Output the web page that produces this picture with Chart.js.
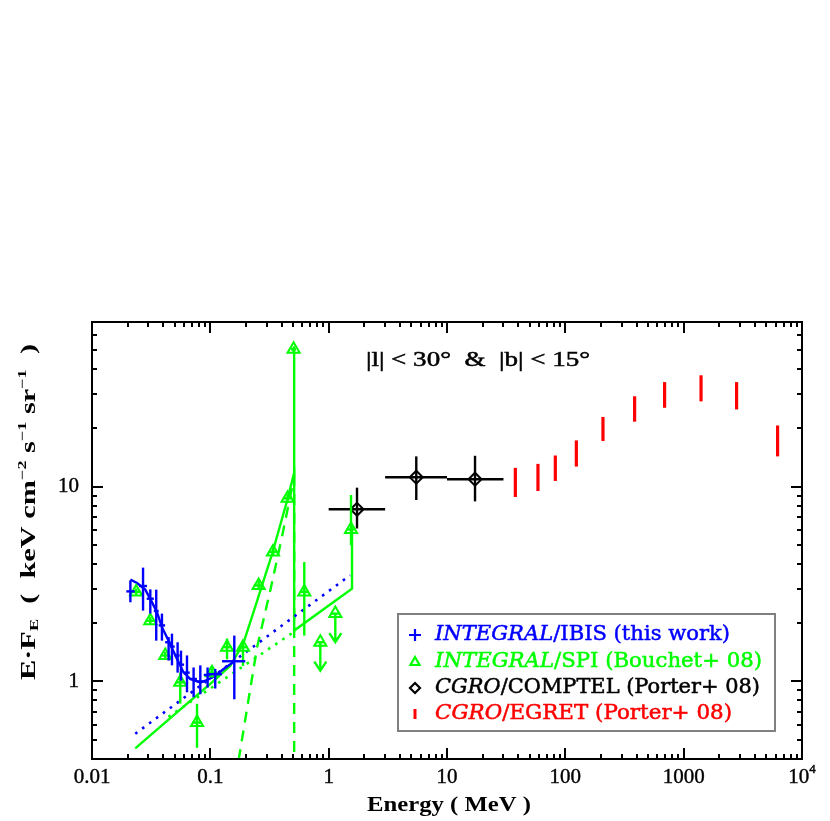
<!DOCTYPE html>
<html>
<head>
<meta charset="utf-8">
<script src="https://cdn.jsdelivr.net/npm/chart.js@4/dist/chart.umd.min.js"></script>
<style>
  html, body { margin: 0; padding: 0; background: #fff; }
  #wrap { width: 830px; height: 821px; }
</style>
</head>
<body>
<div id="wrap"><canvas id="chart" width="830" height="821"></canvas></div>
<script>
// Sumbu
const xTickLabels = ['0.01', '0.1', '1', '10', '100', '1000', '10^4'];
const xMajorTicks = [0.01, 0.1, 1, 10, 100, 1000, 10000];
const yTickLabels = ['1', '10'];
const yMajorTicks = [1, 10];

// INTEGRAL/IBIS (biru)
const ibisE    = [0.0211, 0.0270, 0.0311, 0.0349, 0.0390, 0.0444, 0.0474, 0.0529, 0.0565, 0.0635, 0.0722, 0.0823, 0.0948, 0.110, 0.1594];
const ibisF    = [2.90, 3.09, 2.66, 2.30, 1.94, 1.59, 1.51, 1.36, 1.22, 1.11, 1.03, 1.00, 1.08, 1.09, 1.27];
const ibisFlo  = [2.55, 2.31, 2.23, 1.62, 1.62, 1.28, 1.21, 1.11, 1.01, 0.88, 0.83, 0.86, 0.93, 0.92, 0.81];
const ibisFhi  = [3.30, 3.84, 2.97, 2.96, 2.23, 1.69, 1.76, 1.59, 1.44, 1.36, 1.18, 1.21, 1.18, 1.16, 1.72];
const ibisElo  = [0.0195, 0.0250, 0.0290, 0.0333, 0.0366, 0.0415, 0.0460, 0.0500, 0.0550, 0.0600, 0.0670, 0.0770, 0.0880, 0.0936, 0.1256];
const ibisEhi  = [0.0230, 0.0292, 0.0333, 0.0366, 0.0415, 0.0460, 0.0500, 0.0550, 0.0600, 0.0670, 0.0770, 0.0880, 0.1000, 0.1256, 0.1975];
const ibisModelE = [0.0211, 0.0240, 0.0282, 0.0321, 0.0354, 0.0390, 0.0444, 0.0523, 0.0594, 0.0677, 0.0823, 0.0937, 0.110, 0.1294, 0.1594];
const ibisModelF = [3.33, 3.20, 2.96, 2.555, 2.27, 1.90, 1.62, 1.305, 1.113, 1.029, 0.988, 1.017, 1.07, 1.158, 1.268];
const ibisPowE = [0.0232, 1.52];
const ibisPowF = [0.539, 3.51];

// INTEGRAL/SPI (hijau)
const spiE   = [0.0236, 0.0311, 0.0416, 0.0557, 0.0772, 0.1033, 0.1384, 0.1888, 0.256, 0.3385, 0.4497, 0.5055, 0.6223, 0.85, 1.138, 1.545];
const spiF   = [2.88, 2.05, 1.36, 0.99, 0.615, 1.11, 1.50, 1.50, 3.11, 4.62, 8.71, 50.7, 2.88, 1.59, 2.23, 6.03];
const spiFlo = [2.76, 1.96, 1.30, 0.77, 0.457, 1.05, 1.30, 1.20, 2.96, 4.40, 8.25, 49.0, 1.72, 1.59, 2.23, 5.00];
const spiFhi = [3.00, 2.15, 1.42, 1.11, 0.767, 1.20, 1.66, 1.60, 3.28, 4.85, 9.20, 52.0, 4.10, 1.59, 2.23, 9.06];
const spiElo = [0.0215, 0.0285, 0.0380, 0.0510, 0.0705, 0.0940, 0.1260, 0.1720, 0.2330, 0.310, 0.410, 0.480, 0.570, 0.780, 1.040, 1.410];
const spiEhi = [0.0260, 0.0340, 0.0455, 0.0610, 0.0845, 0.1130, 0.1520, 0.2070, 0.2800, 0.370, 0.490, 0.530, 0.680, 0.930, 1.250, 1.690];
const spiUpper = [false, false, false, false, false, false, false, false, false, false, false, false, false, true, true, false];
const spiTotalE = [0.0232, 0.0677, 0.0999, 0.1475, 0.190, 0.254, 0.334, 0.447, 0.511, 0.511, 0.511, 1.575, 1.575];
const spiTotalF = [0.454, 0.795, 0.973, 1.205, 1.564, 2.70, 4.55, 8.54, 11.77, 52.5, 1.825, 2.995, 6.2];
const spiPosE = [0.1734, 0.248, 0.321, 0.406, 0.474, 0.511, 0.511];
const spiPosF = [0.395, 1.49, 2.93, 5.64, 8.96, 11.1, 0.3];
const spiPowE = [0.0442, 0.511];
const spiPowF = [0.658, 1.80];

// CGRO/COMPTEL (hitam)
const comptelE   = [1.736, 5.50, 17.25];
const comptelF   = [7.65, 11.18, 10.92];
const comptelFlo = [6.10, 8.54, 8.40];
const comptelFhi = [9.88, 14.3, 14.4];
const comptelElo = [1.0, 3.0, 10.0];
const comptelEhi = [3.0, 10.0, 30.0];

// CGRO/EGRET (merah)
const egretE   = [37.8, 58.7, 82.3, 123.9, 208, 385, 690, 1402, 2800, 6220];
const egretFlo = [8.85, 9.50, 10.7, 12.68, 17.14, 21.55, 25.4, 27.4, 24.9, 14.3];
const egretFhi = [12.49, 13.09, 14.45, 17.27, 22.8, 29.1, 34.4, 37.3, 34.4, 20.6];

const BLUE = '#0000ff';
const GREEN = '#00ff00';
const RED = '#ff0000';
const BLACK = '#000000';
const SERIF = '"Liberation Serif", "DejaVu Serif", serif';
const LEGEND_FONT = '"DejaVu Serif", serif';

function toPoints(xs, ys) {
    return xs.map((x, i) => ({ x: x, y: ys[i] }));
}

// Tulis teks beberapa bagian, diskalakan ke lebar tertentu
function drawRuns(ctx, runs, x, y, width, align, weight) {
    let total = 0;
    runs.forEach(r => {
        ctx.font = r.font;
        r.w = ctx.measureText(r.t).width;
        total += r.w;
    });
    const sx = width ? width / total : 1;
    const w = total * sx;
    const start = align === 'center' ? x - w / 2 : (align === 'right' ? x - w : x);
    ctx.save();
    ctx.translate(start, y);
    ctx.scale(sx, 1);
    ctx.textBaseline = 'middle';
    ctx.textAlign = 'left';
    let cx = 0;
    runs.forEach(r => {
        ctx.font = r.font;
        ctx.fillStyle = r.color || BLACK;
        ctx.fillText(r.t, cx, r.dy || 0);
        if (weight) {
            ctx.strokeStyle = r.color || BLACK;
            ctx.lineWidth = weight;
            ctx.strokeText(r.t, cx, r.dy || 0);
        }
        cx += r.w;
    });
    ctx.restore();
}

// Error bar, panah batas atas, dan bar EGRET
const errorBarPlugin = {
    id: 'errorBars',
    afterDatasetsDraw(chart) {
        const ctx = chart.ctx;
        const xs = chart.scales.x;
        const ys = chart.scales.y;
        const area = chart.chartArea;
        ctx.save();
        ctx.beginPath();
        ctx.rect(area.left, area.top, area.right - area.left, area.bottom - area.top);
        ctx.clip();
        ctx.lineCap = 'butt';
        chart.data.datasets.forEach(ds => {
            if (!ds.errInfo) return;
            const e = ds.errInfo;
            ctx.strokeStyle = ds.borderColor;
            ctx.lineWidth = e.width;
            e.x.forEach((xv, i) => {
                const px = xs.getPixelForValue(xv);
                if (e.ylo && e.yhi) {
                    ctx.beginPath();
                    ctx.moveTo(px, ys.getPixelForValue(e.ylo[i]));
                    ctx.lineTo(px, ys.getPixelForValue(e.yhi[i]));
                    ctx.stroke();
                }
                if (e.xlo && e.xhi) {
                    const py = ys.getPixelForValue(e.y[i]);
                    ctx.beginPath();
                    ctx.moveTo(xs.getPixelForValue(e.xlo[i]), py);
                    ctx.lineTo(xs.getPixelForValue(e.xhi[i]), py);
                    ctx.stroke();
                }
                if (e.upper && e.upper[i]) {
                    const py = ys.getPixelForValue(e.y[i]);
                    const tip = ys.getPixelForValue(e.y[i] / 1.4);
                    ctx.beginPath();
                    ctx.moveTo(px, py);
                    ctx.lineTo(px, tip);
                    ctx.moveTo(px - 6, tip - 9);
                    ctx.lineTo(px, tip);
                    ctx.lineTo(px + 6, tip - 9);
                    ctx.stroke();
                }
            });
        });
        ctx.restore();
    }
};

// Bingkai, tick, label, legenda
const framePlugin = {
    id: 'frame',
    afterDraw(chart) {
        const ctx = chart.ctx;
        const xs = chart.scales.x;
        const ys = chart.scales.y;
        const a = chart.chartArea;
        ctx.save();
        ctx.strokeStyle = BLACK;
        ctx.lineWidth = 2;
        ctx.lineCap = 'square';
        ctx.strokeRect(a.left, a.top, a.right - a.left, a.bottom - a.top);

        ctx.lineCap = 'butt';
        ctx.beginPath();
        for (let d = 0.01; d < 10001; d *= 10) {
            for (let m = 1; m <= 9; m++) {
                const v = d * m;
                if (v > 10001) break;
                const px = Math.round(xs.getPixelForValue(v));
                const len = m === 1 ? 11 : 5;
                ctx.moveTo(px, a.bottom);
                ctx.lineTo(px, a.bottom - len);
                ctx.moveTo(px, a.top);
                ctx.lineTo(px, a.top + len);
            }
        }
        for (let d = 0.1; d < 100; d *= 10) {
            for (let m = 1; m <= 9; m++) {
                const v = d * m;
                if (v < 0.399 || v > 70.1) continue;
                const py = Math.round(ys.getPixelForValue(v));
                const len = m === 1 ? 11 : 5;
                ctx.moveTo(a.left, py);
                ctx.lineTo(a.left + len, py);
                ctx.moveTo(a.right, py);
                ctx.lineTo(a.right - len, py);
            }
        }
        ctx.stroke();

        // Label tick
        const tickFont = '21px ' + SERIF;
        xMajorTicks.forEach((v, i) => {
            const px = xs.getPixelForValue(v);
            const lab = xTickLabels[i];
            if (lab === '10^4') {
                drawRuns(ctx, [
                    { t: '10', font: tickFont },
                    { t: '4', font: '13px ' + SERIF, dy: -7 }
                ], px, 777, 0, 'center', 0.4);
            } else {
                drawRuns(ctx, [{ t: lab, font: tickFont }], px, 777, 0, 'center', 0.4);
            }
        });
        yMajorTicks.forEach((v, i) => {
            const py = ys.getPixelForValue(v);
            drawRuns(ctx, [{ t: yTickLabels[i], font: tickFont }], 79, py, 0, 'right', 0.4);
        });

        // Judul sumbu
        const tf = 'bold 20px ' + SERIF;
        drawRuns(ctx, [{ t: 'Energy ( MeV )', font: tf }], 449, 806, 164, 'center');
        ctx.save();
        ctx.translate(30, 512);
        ctx.rotate(-Math.PI / 2);
        const sf = 'bold 12px ' + SERIF;
        drawRuns(ctx, [
            { t: 'E\u00b7F', font: tf },
            { t: 'E', font: sf, dy: 5 },
            { t: '  (  keV cm', font: tf },
            { t: '\u22122', font: sf, dy: -7 },
            { t: ' s', font: tf },
            { t: '\u22121', font: sf, dy: -7 },
            { t: ' sr', font: tf },
            { t: '\u22121', font: sf, dy: -7 },
            { t: '  )', font: tf }
        ], 0, 0, 336, 'center');
        ctx.restore();

        // Anotasi wilayah
        drawRuns(ctx, [{ t: '|l| < 30\u00b0  &  |b| < 15\u00b0', font: '21px ' + SERIF }], 478, 360, 224, 'center', 0.5);

        // Legenda
        ctx.fillStyle = '#fff';
        ctx.fillRect(398, 614, 377, 117);
        ctx.strokeStyle = '#808080';
        ctx.lineWidth = 2;
        ctx.strokeRect(398, 614, 377, 117);

        const lf = '20px ' + LEGEND_FONT;
        const lfi = 'italic 20px ' + LEGEND_FONT;
        const rows = [
            { y: 635, color: BLUE, it: 'INTEGRAL', rest: '/IBIS (this work)', w: 295 },
            { y: 661.5, color: GREEN, it: 'INTEGRAL', rest: '/SPI (Bouchet+ 08)', w: 327 },
            { y: 688, color: BLACK, it: 'CGRO', rest: '/COMPTEL (Porter+ 08)', w: 325 },
            { y: 713.5, color: RED, it: 'CGRO', rest: '/EGRET (Porter+ 08)', w: 297 }
        ];
        rows.forEach(r => {
            drawRuns(ctx, [
                { t: r.it, font: lfi, color: r.color },
                { t: r.rest, font: lf, color: r.color }
            ], 435, r.y, r.w, 'left', 0.5);
        });
        const sx = 415;
        ctx.lineWidth = 2.2;
        // plus
        ctx.strokeStyle = BLUE;
        ctx.beginPath();
        ctx.moveTo(sx - 6, 635); ctx.lineTo(sx + 6, 635);
        ctx.moveTo(sx, 629); ctx.lineTo(sx, 641);
        ctx.stroke();
        // segitiga
        ctx.strokeStyle = GREEN;
        ctx.beginPath();
        ctx.moveTo(sx, 657); ctx.lineTo(sx + 4.5, 665); ctx.lineTo(sx - 4.5, 665); ctx.closePath();
        ctx.stroke();
        // belah ketupat
        ctx.strokeStyle = BLACK;
        ctx.beginPath();
        ctx.moveTo(sx, 683); ctx.lineTo(sx + 5, 688); ctx.lineTo(sx, 693); ctx.lineTo(sx - 5, 688); ctx.closePath();
        ctx.stroke();
        // bar merah
        ctx.strokeStyle = RED;
        ctx.lineWidth = 3;
        ctx.beginPath();
        ctx.moveTo(sx, 709); ctx.lineTo(sx, 719);
        ctx.stroke();
        ctx.restore();
    }
};

const lineWidth = 2.4;

const ctx = document.getElementById('chart').getContext('2d');
new Chart(ctx, {
    type: 'scatter',
    data: {
        datasets: [
            {
                label: 'COMPTEL',
                data: toPoints(comptelE, comptelF),
                borderColor: BLACK,
                backgroundColor: 'rgba(0,0,0,0)',
                pointStyle: 'rectRot',
                pointRadius: 6.5,
                pointBorderWidth: 2,
                errInfo: { x: comptelE, y: comptelF, ylo: comptelFlo, yhi: comptelFhi, xlo: comptelElo, xhi: comptelEhi, width: 2.4 }
            },
            {
                label: 'SPI',
                data: toPoints(spiE, spiF),
                borderColor: GREEN,
                backgroundColor: 'rgba(0,0,0,0)',
                pointStyle: 'triangle',
                pointRadius: 7,
                pointBorderWidth: 2,
                errInfo: { x: spiE, y: spiF, ylo: spiFlo, yhi: spiFhi, xlo: spiElo, xhi: spiEhi, upper: spiUpper, width: 2.4 }
            },
            {
                label: 'IBIS',
                data: toPoints(ibisE, ibisF),
                borderColor: BLUE,
                pointRadius: 0,
                errInfo: { x: ibisE, y: ibisF, ylo: ibisFlo, yhi: ibisFhi, xlo: ibisElo, xhi: ibisEhi, width: 2.4 }
            },
            {
                label: 'EGRET',
                data: toPoints(egretE, egretFhi),
                borderColor: RED,
                pointRadius: 0,
                errInfo: { x: egretE, ylo: egretFlo, yhi: egretFhi, width: 3.2 }
            },
            {
                label: 'IBIS model',
                data: toPoints(ibisModelE, ibisModelF),
                showLine: true,
                borderColor: BLUE,
                borderWidth: lineWidth,
                pointRadius: 0
            },
            {
                label: 'IBIS power law',
                data: toPoints(ibisPowE, ibisPowF),
                showLine: true,
                borderColor: BLUE,
                borderWidth: 2.6,
                borderDash: [2.6, 6],
                pointRadius: 0
            },
            {
                label: 'SPI total',
                data: toPoints(spiTotalE, spiTotalF),
                showLine: true,
                borderColor: GREEN,
                borderWidth: lineWidth,
                pointRadius: 0
            },
            {
                label: 'SPI positronium',
                data: toPoints(spiPosE, spiPosF),
                showLine: true,
                borderColor: GREEN,
                borderWidth: lineWidth,
                borderDash: [11, 8],
                pointRadius: 0
            },
            {
                label: 'SPI power law',
                data: toPoints(spiPowE, spiPowF),
                showLine: true,
                borderColor: GREEN,
                borderWidth: 2.6,
                borderDash: [2.6, 6],
                pointRadius: 0
            }
        ]
    },
    options: {
        responsive: false,
        animation: false,
        devicePixelRatio: 1,
        layout: { padding: { left: 92, right: 28, top: 322, bottom: 62 } },
        scales: {
            x: { type: 'logarithmic', min: 0.01, max: 10000, display: false },
            y: { type: 'logarithmic', min: 0.4, max: 70, display: false }
        },
        plugins: {
            legend: { display: false },
            tooltip: { enabled: false }
        }
    },
    plugins: [errorBarPlugin, framePlugin]
});
</script>
</body>
</html>
